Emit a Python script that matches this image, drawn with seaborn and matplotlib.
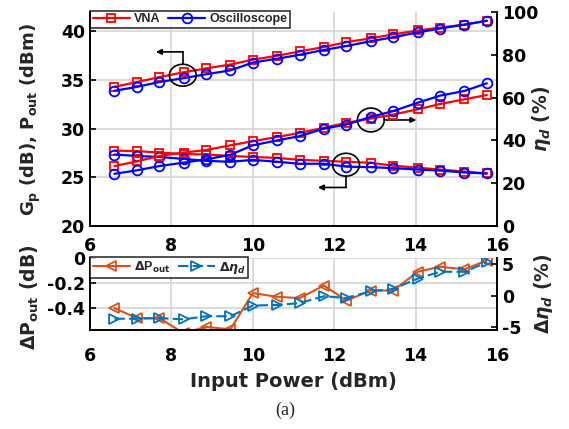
import matplotlib
matplotlib.use("Agg")
import matplotlib.pyplot as plt
import seaborn as sns
import pandas as pd
from matplotlib.patches import Ellipse

# ---------------- data ----------------
pin = [6.6, 7.15, 7.7, 8.3, 8.85, 9.45, 10.0, 10.6, 11.15, 11.75, 12.3,
       12.9, 13.45, 14.05, 14.6, 15.2, 15.75]
pout_vna = [34.3, 34.8, 35.3, 35.8, 36.2, 36.6, 37.1, 37.5, 37.95, 38.4, 38.9,
            39.3, 39.7, 40.1, 40.4, 40.7, 41.1]
pout_osc = [33.9, 34.3, 34.8, 35.2, 35.6, 36.0, 36.8, 37.2, 37.6, 38.1, 38.5,
            39.0, 39.4, 39.9, 40.3, 40.7, 41.1]
gp_vna = [27.75, 27.7, 27.55, 27.4, 27.35, 27.2, 27.1, 27.0, 26.8, 26.7, 26.6,
          26.5, 26.2, 26.0, 25.8, 25.6, 25.4]
gp_osc = [27.35, 27.2, 27.1, 26.9, 26.7, 26.6, 26.8, 26.6, 26.4, 26.4, 26.1,
          26.05, 25.95, 25.8, 25.7, 25.5, 25.4]
eta_vna = [28.0, 30.2, 32.7, 34.3, 35.5, 37.7, 39.6, 41.6, 43.5, 45.9, 48.2,
           50.2, 52.1, 54.5, 57.0, 59.2, 61.2]
eta_osc = [24.4, 26.0, 28.0, 29.6, 31.1, 33.3, 37.7, 40.0, 42.0, 45.5, 47.4,
           51.0, 53.7, 57.6, 60.9, 63.1, 66.7]
d_pout = [-0.40, -0.48, -0.48, -0.60, -0.55, -0.57, -0.28, -0.31, -0.32, -0.22,
          -0.34, -0.26, -0.26, -0.11, -0.07, -0.09, -0.02]
d_eta = [-3.7, -3.7, -3.6, -3.8, -3.3, -3.3, -1.6, -1.5, -1.2, -0.1, -0.4,
         0.7, 1.06, 2.7, 3.8, 3.8, 5.3]

xticks = [6, 8, 10, 12, 14, 16]
top_left_ticks = [20, 25, 30, 35, 40]
top_right_ticks = [0, 20, 40, 60, 80, 100]
bot_left_ticks = [0, -0.2, -0.4]
bot_left_labels = ["0", "-0.2", "-0.4"]
bot_right_ticks = [-5, 0, 5]
bot_right_labels = ["-5", "0", "5"]

# ---------------- style ----------------
sns.set_style("white")
FONT = ["DejaVu Sans"]
plt.rcParams["font.family"] = FONT
plt.rcParams["font.weight"] = "bold"
plt.rcParams["axes.labelweight"] = "bold"
plt.rcParams["mathtext.fontset"] = "custom"
plt.rcParams["mathtext.rm"] = "DejaVu Sans:bold"
plt.rcParams["mathtext.bf"] = "DejaVu Sans:bold"
plt.rcParams["mathtext.it"] = "DejaVu Sans:bold:italic"
plt.rcParams["mathtext.default"] = "bf"

RED = "#FF0000"
BLUE = "#0000FF"
ORANGE = "#D95319"
MBLUE = "#0072BD"
GRID = "#d4d4d4"

fig = plt.figure(figsize=(5.69, 4.29), dpi=100)
ax = fig.add_axes([90/569, 1-226/429, 407/569, 214/429])
ax2 = ax.twinx()
bx = fig.add_axes([90/569, 1-330/429, 407/569, 72/429])
bx2 = bx.twinx()

df = pd.DataFrame(dict(pin=pin, pout_vna=pout_vna, pout_osc=pout_osc,
                       gp_vna=gp_vna, gp_osc=gp_osc, eta_vna=eta_vna,
                       eta_osc=eta_osc, d_pout=d_pout, d_eta=d_eta))

vkw = dict(color=RED, marker="s", markersize=5.5, mfc="none", mec=RED,
           mew=1.3, linewidth=1.6)
okw = dict(color=BLUE, marker="o", markersize=7, mfc="none", mec=BLUE,
           mew=1.3, linewidth=1.6)

sns.lineplot(data=df, x="pin", y="pout_vna", ax=ax, label="VNA", **vkw)
sns.lineplot(data=df, x="pin", y="pout_osc", ax=ax, label="Oscilloscope", **okw)
sns.lineplot(data=df, x="pin", y="gp_vna", ax=ax, legend=False, **vkw)
sns.lineplot(data=df, x="pin", y="gp_osc", ax=ax, legend=False, **okw)
sns.lineplot(data=df, x="pin", y="eta_vna", ax=ax2, legend=False, **vkw)
sns.lineplot(data=df, x="pin", y="eta_osc", ax=ax2, legend=False, **okw)

sns.lineplot(data=df, x="pin", y="d_pout", ax=bx, label=r"$\Delta$P$_{out}$",
             color=ORANGE, marker="<", markersize=7, mfc="none", mec=ORANGE,
             mew=1.3, linewidth=1.5)
sns.lineplot(data=df, x="pin", y="d_eta", ax=bx2, label=r"$\Delta\it{\eta}_{d}$",
             color=MBLUE, marker=">", markersize=7, mfc="none", mec=MBLUE,
             mew=1.3, linewidth=1.5, linestyle=(0, (5, 2)))

# ---------------- axes formatting ----------------
for a in (ax, bx):
    a.set_xlim(6, 16)
    a.set_xticks(xticks)
ax.set_ylim(20, 42)
ax.set_yticks(top_left_ticks)
ax2.set_ylim(0, 100)
ax2.set_yticks(top_right_ticks)
bx.set_ylim(-0.575, 0)
bx.set_yticks(bot_left_ticks)
bx.set_yticklabels(bot_left_labels)
bx2.set_ylim(-5.5, 6)
bx2.set_yticks(bot_right_ticks)
bx2.set_yticklabels(bot_right_labels)

for a in (ax, ax2, bx, bx2):
    a.spines["top"].set_visible(False)
    for s in a.spines.values():
        s.set_color("black")
        s.set_linewidth(1.2)
    a.tick_params(direction="in", length=4, width=1.2, labelsize=12.5,
                  colors="black")
    a.tick_params(axis="y", pad=3.5)
    a.set_xlabel("")
    a.set_ylabel("")
    for t in a.get_xticklabels() + a.get_yticklabels():
        t.set_fontweight("bold")
for a in (ax, bx):
    a.grid(True, color=GRID, linewidth=1.2)
    a.set_axisbelow(True)
for a in (ax2, bx2):
    a.grid(False)
ax.tick_params(axis="x", pad=8)
bx.tick_params(axis="x", pad=12)

ax.set_ylabel("G$_p$ (dB), P$_{out}$ (dBm)", fontsize=13)
ax.yaxis.set_label_coords(-0.115, 0.5)
ax2.set_ylabel(r"$\it{\eta}_{d}$ (%)", fontsize=13.5, rotation=90)
ax2.yaxis.set_label_coords(1.08, 0.5)
bx.set_ylabel(r"$\Delta$P$_{out}$ (dB)", fontsize=13.5)
bx.yaxis.set_label_coords(-0.12, 0.45)
bx2.set_ylabel(r"$\Delta\it{\eta}_{d}$ (%)", fontsize=13.5, rotation=90)
bx2.yaxis.set_label_coords(1.085, 0.5)
bx.set_xlabel("Input Power (dBm)", fontsize=14, labelpad=5)

# ---------------- legends ----------------
lprop = dict(weight="bold", size=9, family=["Liberation Sans", "DejaVu Sans"])
leg = ax.legend(loc="upper left", bbox_to_anchor=(0, 1.005), ncol=2,
                frameon=True, fancybox=False, edgecolor="black",
                borderaxespad=0, handlelength=3.0, columnspacing=0.6,
                handletextpad=0.3, borderpad=0.2, prop=lprop)
leg.get_frame().set_linewidth(1.2)
leg.set_zorder(20)

h1, l1 = bx.get_legend_handles_labels()
h2, l2 = [], []
for ln in bx2.get_lines():
    if not ln.get_label().startswith("_"):
        h2.append(ln)
        l2.append(ln.get_label())
if bx.legend_:
    bx.legend_.remove()
leg2 = bx2.legend(h1 + h2, l1 + l2, loc="upper left", bbox_to_anchor=(0, 1.01),
                  ncol=2, frameon=True, fancybox=False, edgecolor="black",
                  borderaxespad=0, handlelength=3.0, columnspacing=0.6,
                  handletextpad=0.3, borderpad=0.2, prop=lprop)
leg2.get_frame().set_linewidth(1.2)

# ---------------- annotations ----------------
ekw = dict(fill=False, edgecolor="black", linewidth=1.2, zorder=10)
akw = dict(arrowstyle="-|>", color="black", lw=1.2, mutation_scale=8,
           shrinkA=0, shrinkB=0)
ax.add_patch(Ellipse((8.28, 35.5), 0.66, 2.25, **ekw))
ax.plot([8.28, 8.28], [36.62, 37.9], color="black", lw=1.2, zorder=10)
ax.annotate("", xy=(7.62, 37.9), xytext=(8.29, 37.9), arrowprops=akw)

ax.add_patch(Ellipse((12.9, 30.9), 0.66, 2.45, **ekw))
ax.annotate("", xy=(14.02, 30.9), xytext=(13.23, 30.9), arrowprops=akw)

ax.add_patch(Ellipse((12.29, 26.3), 0.66, 2.35, **ekw))
ax.plot([12.29, 12.29], [25.12, 23.96], color="black", lw=1.2, zorder=10)
ax.annotate("", xy=(11.6, 23.96), xytext=(12.3, 23.96), arrowprops=akw)

fig.text(285/569, 1-410/429, "(a)", fontsize=13, fontweight="normal",
         family=["Liberation Serif", "DejaVu Serif"], ha="center", va="center")

fig.savefig("out.png", dpi=100)
